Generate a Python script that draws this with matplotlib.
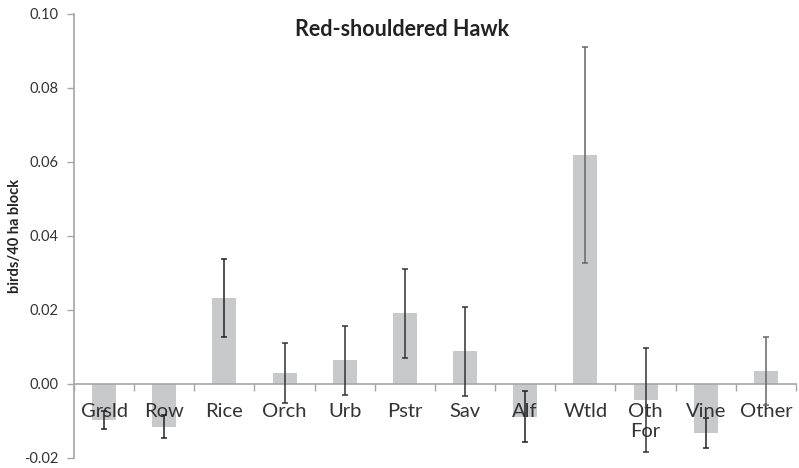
import matplotlib.pyplot as plt
import numpy as np

plt.rcParams['font.family'] = ['Lato', 'DejaVu Sans']

# habitat categories and mean birds per 40 ha block
habitats = ['Grsld', 'Row', 'Rice', 'Orch', 'Urb', 'Pstr', 'Sav', 'Alf',
            'Wtld', 'Oth\nFor', 'Vine', 'Other']
means = [-0.0097, -0.0115, 0.0232, 0.0030, 0.0064, 0.0191, 0.0088, -0.0089,
         0.0619, -0.0043, -0.0132, 0.0035]
errs = [0.0025, 0.0030, 0.0105, 0.0082, 0.0093, 0.0120, 0.0120, 0.0069,
        0.0293, 0.0141, 0.0041, 0.0093]
err_cols = ['#222222', '#222222', '#222222', '#333333', '#333333', '#333333',
            '#333333', '#222222', '#666666', '#333333', '#222222', '#666666']

yticks = [-0.02, 0.00, 0.02, 0.04, 0.06, 0.08, 0.10]

fig = plt.figure(figsize=(7.99, 4.68), dpi=100)
ax = fig.add_axes([0.0926, 0.0214, 0.9036, 0.9487])
ax.set_axisbelow(False)

x = np.arange(len(habitats))
ax.bar(x, means, width=0.4, color='#c8c9cb', zorder=1)
for xi, m, e, c in zip(x, means, errs, err_cols):
    ax.errorbar(xi, m, yerr=e, fmt='none', ecolor=c, elinewidth=1.1,
                capsize=2.5, capthick=1.1, zorder=4)

ax.set_xlim(-0.5, len(habitats) - 0.5)
ax.set_ylim(-0.02, 0.10)
ax.set_yticks(yticks)
ax.set_yticklabels(['%.2f' % v for v in yticks])

# category labels centred, tick marks between categories
ax.set_xticks(x)
ax.set_xticklabels(habitats, linespacing=1.5, va='top')
ax.set_xticks(np.arange(-0.5, len(habitats)), minor=True)
ax.tick_params(axis='x', which='major', length=0, pad=14, labelsize=14.5,
               labelcolor='#333333')
ax.tick_params(axis='x', which='minor', length=5, direction='out',
               color='#a6a6a6', width=1)
ax.tick_params(axis='y', length=5, color='#a6a6a6', width=1, pad=6,
               labelsize=10.5, labelcolor='#333333')

for s in ['top', 'right']:
    ax.spines[s].set_visible(False)
ax.spines['bottom'].set_position(('data', 0))
ax.spines['bottom'].set_color('#a6a6a6')
ax.spines['left'].set_color('#a6a6a6')
ax.spines['bottom'].set_linewidth(1.2)
ax.spines['left'].set_linewidth(1.2)

fig.text(0.503, 0.936, 'Red-shouldered Hawk', fontsize=15.5, fontweight='bold',
         ha='center', va='center', color='#222222')
fig.text(0.019, 0.496, 'birds/40 ha block', fontsize=10.5, fontweight='bold',
         rotation=90, ha='center', va='center', color='#222222')

fig.savefig('out.png', dpi=100)
